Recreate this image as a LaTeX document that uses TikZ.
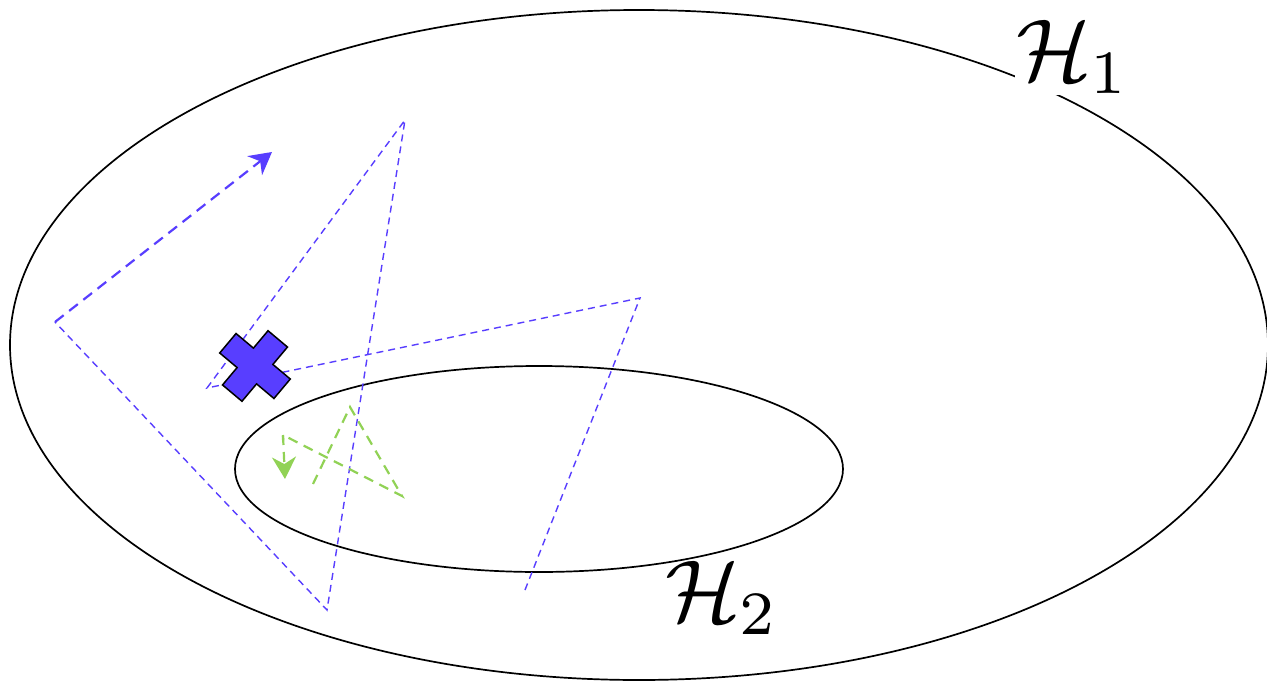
\documentclass[tikz,border=0pt]{standalone}
\usetikzlibrary{arrows.meta}
\definecolor{pblue}{RGB}{88,62,255}
\definecolor{pgreen}{RGB}{145,210,85}
\begin{document}
\begin{tikzpicture}[x=1pt,y=-1pt,
  set/.style={draw=black,line width=1.7pt},
  walkthin/.style={draw=pblue,line width=1.4pt,dash pattern=on 7pt off 5pt},
  walkthick/.style={draw=pblue,line width=2.2pt,dash pattern=on 11pt off 7pt,
     -{Stealth[length=22pt,width=24pt,inset=7pt]}},
  walkgreen/.style={draw=pgreen,line width=2.2pt,dash pattern=on 10pt off 7pt},
  walkgreenarrow/.style={walkgreen,-{Stealth[length=22pt,width=24pt,inset=7pt]}},
  lbl/.style={inner sep=1pt}
]
\useasboundingbox (0,0) rectangle (1267,683);
\fill[white] (0,0) rectangle (1267,683);
% sets
\draw[set] (639,345) ellipse [x radius=629,y radius=335];
\draw[set] (539,469) ellipse [x radius=304,y radius=103];
% blue walk
\coordinate (b0) at (525,590);
\coordinate (b1) at (640,298);
\coordinate (b2) at (207,388);
\coordinate (b3) at (405,120);
\coordinate (b4) at (327,610);
\coordinate (b5) at (55,322);
\coordinate (b6) at (272,152);
\draw[walkthin] (b0) -- (b1) -- (b2) -- (b3) -- (b4) -- (b5);
\draw[walkthick] (b5) -- (b6);
% green walk
\coordinate (g0) at (313,484);
\coordinate (g1) at (350,407);
\coordinate (g2) at (402,496);
\coordinate (g3) at (283,435);
\coordinate (g4) at (285,479);
\draw[walkgreen] (g0) -- (g1) -- (g2) -- (g3) -- ++(0,5);
\draw[walkgreenarrow] (g3) -- (g4);
% cross
\begin{scope}[shift={(255,366)},rotate=50]
\draw[fill=pblue,line width=1.5pt,line join=miter]
  (12.7,35.4) -- (12.7,12.7) -- (35.4,12.7) -- (35.4,-12.7) -- (12.7,-12.7)
  -- (12.7,-35.4) -- (-12.7,-35.4) -- (-12.7,-12.7) -- (-35.4,-12.7)
  -- (-35.4,12.7) -- (-12.7,12.7) -- (-12.7,35.4) -- cycle;
\end{scope}
% labels
\node[lbl,fill=white] (h1) at (1073,57) {\scalebox{8.8}{$\mathcal{H}_1$}};
\node[lbl] (h2) at (722,598) {\scalebox{8.8}{$\mathcal{H}_2$}};
\end{tikzpicture}
\end{document}
